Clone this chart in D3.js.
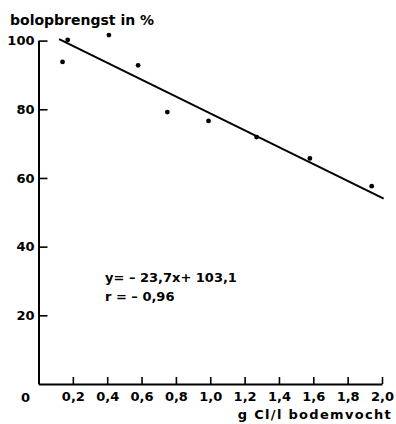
<!DOCTYPE html>
<html>
<head>
<meta charset="utf-8">
<script src="https://cdn.jsdelivr.net/npm/d3@7"></script>
<style>
  body { margin: 0; background: #fff; }
  svg text { font-family: "DejaVu Sans", sans-serif; font-weight: bold; fill: #000; }
</style>
</head>
<body>
<svg id="chart" width="396" height="424"></svg>
<script>
// measured points (g Cl/l vs bolopbrengst %)
const chlorine = [0.14, 0.17, 0.41, 0.58, 0.75, 0.99, 1.27, 1.58, 1.94];
const yieldPct = [93.8, 100.2, 101.6, 92.8, 79.2, 76.6, 71.9, 65.7, 57.6];

// regression line end points as drawn
const lineX = [0.12, 2.01];
const lineY = [100.4, 54.0];

const xTicks = [0.2, 0.4, 0.6, 0.8, 1.0, 1.2, 1.4, 1.6, 1.8, 2.0];
const yTicks = [20, 40, 60, 80, 100];

const svg = d3.select('#chart');

const x = d3.scaleLinear().domain([0, 2]).range([38.5, 382]);
const y = d3.scaleLinear().domain([0, 100]).range([384, 40.6]);

const comma = d3.formatLocale({ decimal: ',', thousands: '.', grouping: [3], currency: ['', ''] });

// x axis, ticks pointing up
const xAxis = svg.append('g')
    .attr('transform', `translate(0,${y(0)})`)
    .call(d3.axisBottom(x).tickValues(xTicks).tickSizeInner(-7).tickSizeOuter(0)
        .tickPadding(8).tickFormat(comma.format('.1f')));

// y axis, ticks pointing right
const yAxis = svg.append('g')
    .attr('transform', `translate(${x(0)},0)`)
    .call(d3.axisLeft(y).tickValues(yTicks).tickSizeInner(-9).tickSizeOuter(0)
        .tickPadding(4).tickFormat(d3.format('d')));

[xAxis, yAxis].forEach(a => {
    a.select('.domain').attr('stroke', '#000').attr('stroke-width', 2);
    a.selectAll('.tick line').attr('stroke', '#000').attr('stroke-width', 1.6);
    a.selectAll('.tick text').attr('font-size', 13).attr('font-family', null);
});

// origin label sits left of the axis
svg.append('text')
    .attr('x', x(0) - 13)
    .attr('y', y(0) + 18)
    .attr('text-anchor', 'middle')
    .attr('font-size', 13)
    .text('0');

// regression line
svg.append('line')
    .attr('x1', x(lineX[0])).attr('y1', y(lineY[0]))
    .attr('x2', x(lineX[1])).attr('y2', y(lineY[1]))
    .attr('stroke', '#000').attr('stroke-width', 2);

// points
svg.selectAll('circle.pt')
    .data(d3.zip(chlorine, yieldPct))
    .enter().append('circle')
    .attr('class', 'pt')
    .attr('cx', d => x(d[0]))
    .attr('cy', d => y(d[1]))
    .attr('r', 2.4)
    .attr('fill', '#000');

// labels
svg.append('text')
    .attr('x', 10).attr('y', 25)
    .attr('font-size', 14)
    .text('bolopbrengst in %');

svg.append('text')
    .attr('x', 392).attr('y', 419)
    .attr('text-anchor', 'end')
    .attr('font-size', 13)
    .attr('letter-spacing', 1.3)
    .text('g Cl/l bodemvocht');

svg.append('text')
    .attr('x', 105).attr('y', 282)
    .attr('font-size', 13)
    .text('y= – 23,7x+ 103,1');

svg.append('text')
    .attr('x', 105).attr('y', 301)
    .attr('font-size', 13)
    .text('r = – 0,96');
</script>
</body>
</html>
